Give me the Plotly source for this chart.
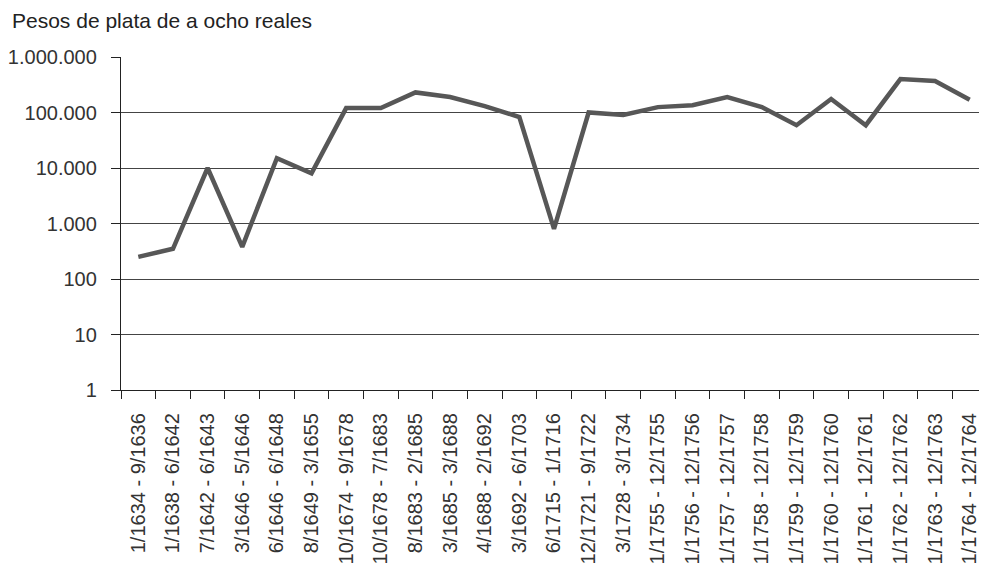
import plotly.graph_objects as go

periods = [
    "1/1634 - 9/1636", "1/1638 - 6/1642", "7/1642 - 6/1643", "3/1646 - 5/1646",
    "6/1646 - 6/1648", "8/1649 - 3/1655", "10/1674 - 9/1678", "10/1678 - 7/1683",
    "8/1683 - 2/1685", "3/1685 - 3/1688", "4/1688 - 2/1692", "3/1692 - 6/1703",
    "6/1715 - 1/1716", "12/1721 - 9/1722", "3/1728 - 3/1734", "1/1755 - 12/1755",
    "1/1756 - 12/1756", "1/1757 - 12/1757", "1/1758 - 12/1758", "1/1759 - 12/1759",
    "1/1760 - 12/1760", "1/1761 - 12/1761", "1/1762 - 12/1762", "1/1763 - 12/1763",
    "1/1764 - 12/1764",
]
pesos = [
    250, 350, 10000, 380, 15000, 8000, 120000, 120000, 230000, 190000,
    130000, 83000, 800, 100000, 90000, 125000, 135000, 190000, 125000, 59000,
    175000, 59000, 400000, 370000, 170000,
]
ytick_vals = [1, 10, 100, 1000, 10000, 100000, 1000000]
ytick_text = ["1", "10", "100", "1.000", "10.000", "100.000", "1.000.000"]

FONT = "Liberation Sans"
W, H = 979, 562

fig = go.Figure(go.Scatter(
    x=periods, y=pesos, mode="lines",
    line=dict(color="#575757", width=4.5),
    hoverinfo="skip",
))

fig.update_layout(
    width=W, height=H,
    margin=dict(l=113, r=0, t=49, b=180),
    paper_bgcolor="white", plot_bgcolor="white",
    showlegend=False,
    font=dict(family=FONT, color="#333333"),
    title=dict(text="Pesos de plata de a ocho reales", x=4/W, xanchor="left",
               xref="container", y=1-13/H, yanchor="middle", yref="container",
               font=dict(size=21, family=FONT, color="#222222")),
)

fig.update_xaxes(
    type="category", tickson="boundaries", ticks="outside", ticklen=8,
    tickcolor="#222222", tickwidth=1.3,
    tickangle=-90, tickfont=dict(size=20, family=FONT, color="#333333"),
    showgrid=False, showline=True, linecolor="#222222", linewidth=1.3,
    range=[-0.5, len(periods) - 0.5], ticklabelstandoff=14,
)
fig.update_yaxes(
    type="log", range=[0, 6], tickvals=ytick_vals, ticktext=ytick_text,
    ticks="outside", ticklen=9, tickcolor="#222222", tickwidth=1.3,
    tickfont=dict(size=20, family=FONT, color="#333333"),
    showgrid=True, gridcolor="#444444", gridwidth=1.2,
    showline=True, linecolor="#222222", linewidth=1.3,
    zeroline=False, ticklabelstandoff=10,
)

fig.write_html("out.html")
